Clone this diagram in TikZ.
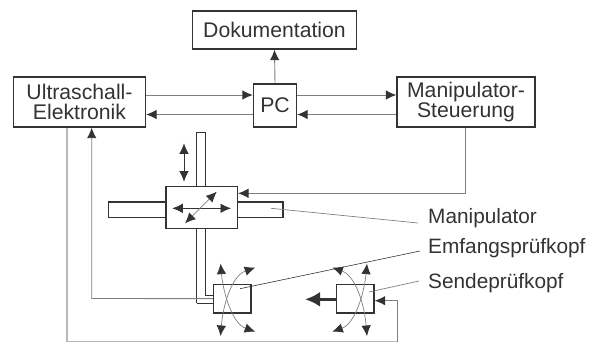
\documentclass[tikz,border=0pt]{standalone}
\usepackage{fontspec}
\setmainfont{Liberation Sans}
\usetikzlibrary{arrows.meta}
\definecolor{ink}{gray}{0.2}
\definecolor{wire}{gray}{0.5}
\definecolor{pale}{gray}{0.72}
\tikzset{
  every picture/.style={
    >={Latex[width=9.5pt, length=10.5pt, color=ink]}
  },
  block/.style={
    draw=ink, line width=1.3pt, fill=white, text=ink, inner sep=0pt,
    align=center, font=\fontsize{21.2}{19.8}\selectfont
  },
  part/.style={
    draw=ink, line width=1.3pt, inner sep=0pt
  },
  wired/.style={
    draw=wire, line width=0.9pt
  },
  label/.style={
    anchor=west, text=ink, inner sep=0pt,
    font=\fontsize{20.8}{20}\selectfont
  }
}

\begin{document}
\begin{tikzpicture}[
      x=1pt, y=-1pt
    ]
    \useasboundingbox (0,0) rectangle (600,349);
    % blocks
    \node [block,minimum width=164pt,minimum height=38pt] (doku) at (274.5,30) {Dokumentation};
    \node [block,minimum width=132pt,minimum height=50pt] (ultra) at (79.5,102) {Ultraschall-\\Elektronik};
    \node [block,minimum width=43pt,minimum height=43pt] (pc) at (275,105.5) {PC};
    \node [block,minimum width=138pt,minimum height=50pt] (steuer) at (466,102) {Manipulator-\\Steuerung};
    % rods
    \node [part,minimum width=174.5pt,minimum height=15.5pt] (hrod) at (195.7,209.8) {};
    \draw [part] (196.7,303.3) -- (196.7,132.7) -- (205.3,132.7) -- (205.3,295.3) -- (213.5,295.3);
    \draw [part] (196.7,303.3) -- (213.5,303.3);
    \node [part,fill=white,minimum width=71.3pt,minimum height=42pt] (schlitten) at (201.7,207.7) {};
    % probes
    \node [part,fill=white,minimum width=37.5pt,minimum height=28.7pt] (empf) at (232.2,298.6) {};
    \node [part,fill=white,minimum width=37.5pt,minimum height=28.7pt] (send) at (355.3,298.6) {};
    % connections
    \coordinate (up) at (0,95);
    \coordinate (lo) at (0,114.5);
    \draw [wired,->] (pc.north) -- (doku.south);
    \draw [wired,->] (ultra.east|-up) -- (pc.west|-up);
    \draw [wired,->] (pc.west|-lo) -- (ultra.east|-lo);
    \draw [wired,->] (pc.east|-up) -- (steuer.west|-up);
    \draw [wired,->] (steuer.west|-lo) -- (pc.east|-lo);
    \coordinate (m1) at (465.7,193.3);
    \draw [wired,->] (m1|-steuer.south) -- (m1) -- (m1-|schlitten.east);
    \coordinate (e1) at (91.7,298.5);
    \draw [wired,->] (empf.west) -- (e1) -- (e1|-ultra.south);
    \coordinate (s1) at (67,341.7);
    \coordinate (s2) at (397.7,300.7);
    \draw [wired,draw=pale,line width=1.3pt] (s1|-ultra.south) -- (s1) -- (s1-|s2);
    \draw [wired,->] (s1-|s2) -- (s2) -- (s2-|send.east);
    % motion arrows
    \draw [ink,line width=0.7pt,<->] (184,143.3) coordinate (z1) -- (184,181.7) coordinate (z2);
    \draw [ink,line width=0.7pt,<->] (172.3,208.3) coordinate (x1) -- (231,208.3) coordinate (x2);
    \draw [wire,line width=0.8pt,<->] (185,223.3) coordinate (y1) -- (216.7,191.7) coordinate (y2);
    \draw [ink,line width=3.3pt,-{Latex[width=15pt, length=15pt]}] (send.west|-0,299.3) -- (305,299.3) coordinate (schall);
    \foreach \mid/\sgn in {empf/1,send/-1} {
      \begin{scope}[shift={(\mid.center)},x=\sgn pt]
        \draw [wire,line width=0.7pt,<->] (-11.7,-35) .. controls (-9,-6) and (0,25) .. (23,33);
        \draw [wire,line width=0.7pt,<->] (23,-31) .. controls (0,-23) and (-9,5) .. (-11.7,37.4);
      \end{scope}
    }
    % texts
    \node [label] (lman) at (428,218.5) {Manipulator};
    \node [label] (lempf) at (428,248) {Emfangsprüfkopf};
    \node [label] (lsend) at (428,283) {Sendeprüfkopf};
    \coordinate (man0) at (271,208.3);
    \coordinate (emp0) at (240,288.7);
    \coordinate (sen0) at (369,292);
    \coordinate (man1) at (418,223);
    \coordinate (emp1) at (420,251);
    \coordinate (sen1) at (419,281);
    \draw [wired,line width=0.7pt] (man0) -- (man1);
    \draw [ink,line width=0.6pt] (emp0) -- (emp1);
    \draw [wired,line width=0.7pt] (sen0) -- (sen1);
  \end{tikzpicture}
\end{document}
